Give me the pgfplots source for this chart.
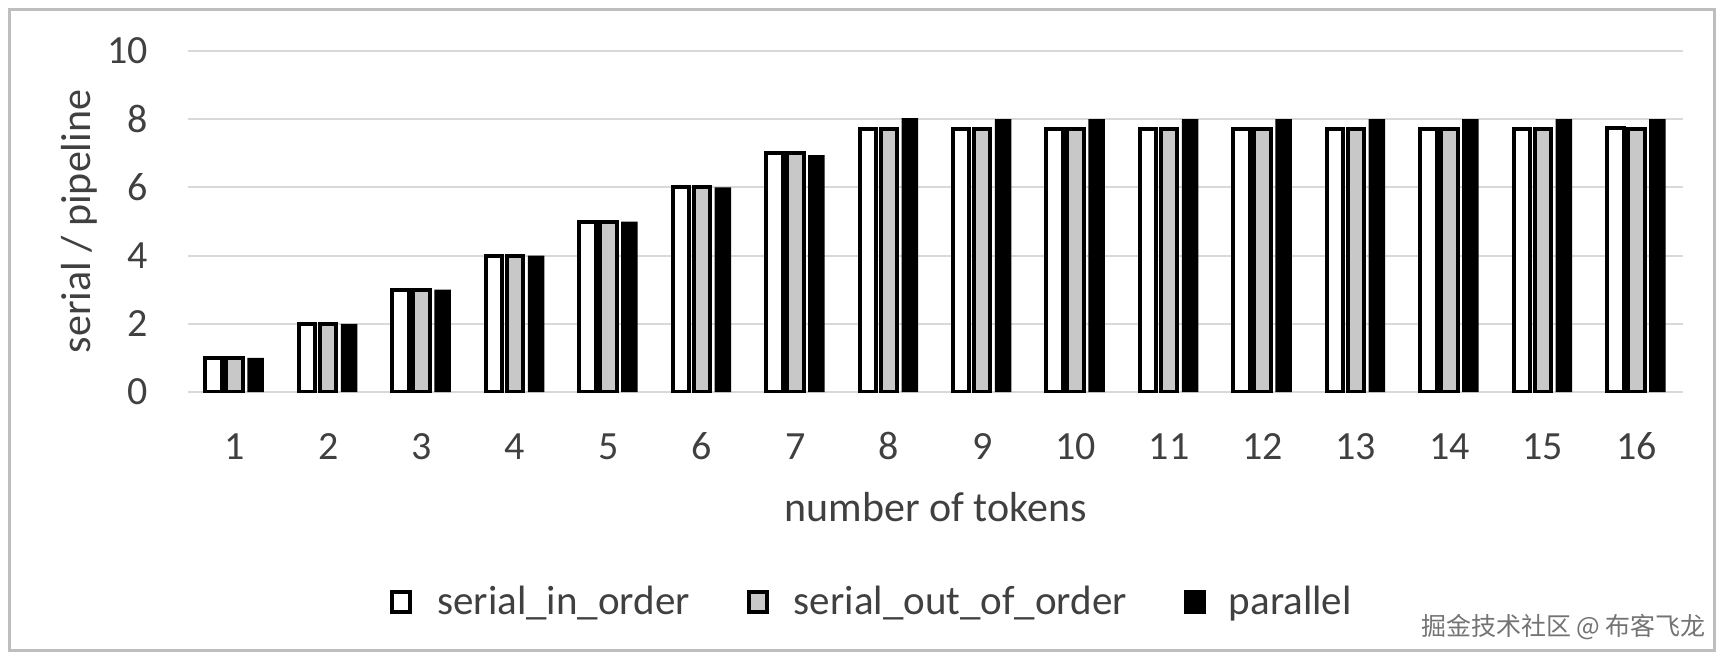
\documentclass[border=0pt]{standalone}
\usepackage{fontspec}
\setmainfont{Carlito}
\newfontfamily\cjk{Noto Sans CJK SC}
\usepackage{pgfplots}
\pgfplotsset{compat=1.18}

\definecolor{gridgray}{RGB}{217,217,217}
\definecolor{bargray}{RGB}{200,200,200}
\definecolor{framegray}{RGB}{190,190,190}
\definecolor{txt}{RGB}{64,64,64}

% square legend boxes, text pushed right
\pgfplotsset{
    boxlegend/.style={
        legend image code/.code={
            \draw[##1, line width=2pt] (1pt,-5pt) rectangle (10pt,5pt);
            \path (22.5pt,0pt);
        }
    }
}

\begin{document}
\begin{tikzpicture}
\useasboundingbox (0pt,0pt) rectangle (862.5pt,-331.5pt);
\draw[framegray, line width=1.5pt] (4.5pt,-4.75pt) rectangle (857.25pt,-325pt);
\begin{axis}[
    at={(94pt,-196pt)}, anchor=south west,
    width=747.5pt, height=170.5pt, scale only axis,
    xmin=0.5, xmax=16.5, ymin=0, ymax=10,
    xtick={1,...,16}, ytick={0,2,...,10},
    ymajorgrids, grid style={gridgray, line width=1pt},
    axis line style={draw=none},
    major tick length=0pt, tick style={draw=none},
    /pgf/number format/assume math mode=true,
    ticklabel style={font=\fontsize{20}{24}\selectfont, text=txt},
    xticklabel style={anchor=base, inner sep=0pt, yshift=-33.75pt},
    yticklabel style={anchor=east, inner sep=0pt, xshift=-20pt},
    ybar=2.25pt, bar width=8.25pt,
    xlabel={number of tokens},
    ylabel={serial / pipeline},
    label style={font=\fontsize{21}{25}\selectfont, text=txt},
    xlabel style={at={(axis description cs:0.5,-0.338)}, anchor=center},
    ylabel style={at={(axis description cs:-0.0729,0.5)}, anchor=center},
    every axis plot post/.append style={boxlegend},
    legend columns=3,
    legend style={
        at={(axis description cs:0.4569,-0.616)}, anchor=center,
        draw=none, fill=none,
        font=\fontsize{20.5}{25}\selectfont, text=txt,
        nodes={inner sep=0pt}, column sep=0pt,
        /tikz/every even column/.append style={column sep=28.5pt}
    }
]
\addplot[draw=black, fill=white, line width=2pt] coordinates {
    (1,1) (2,2) (3,3) (4,4) (5,5) (6,6) (7,7) (8,7.7)
    (9,7.7) (10,7.7) (11,7.7) (12,7.7) (13,7.7) (14,7.7) (15,7.7) (16,7.75)
};
\addplot[draw=black, fill=bargray, line width=2pt] coordinates {
    (1,1) (2,2) (3,3) (4,4) (5,5) (6,6) (7,7) (8,7.7)
    (9,7.7) (10,7.7) (11,7.7) (12,7.7) (13,7.7) (14,7.7) (15,7.7) (16,7.7)
};
\addplot[draw=none, fill=black] coordinates {
    (1,1) (2,2) (3,3) (4,4) (5,5) (6,6) (7,6.95) (8,8.03)
    (9,8) (10,8) (11,8) (12,8) (13,8) (14,8) (15,8) (16,8)
};
\legend{serial\_in\_order, serial\_out\_of\_order, parallel}
\end{axis}
\node[font=\cjk\fontsize{12.5}{15}\selectfont, text=black!55] at (781.75pt,-313.5pt) {掘金技术社区 @ 布客飞龙};
\end{tikzpicture}
\end{document}
